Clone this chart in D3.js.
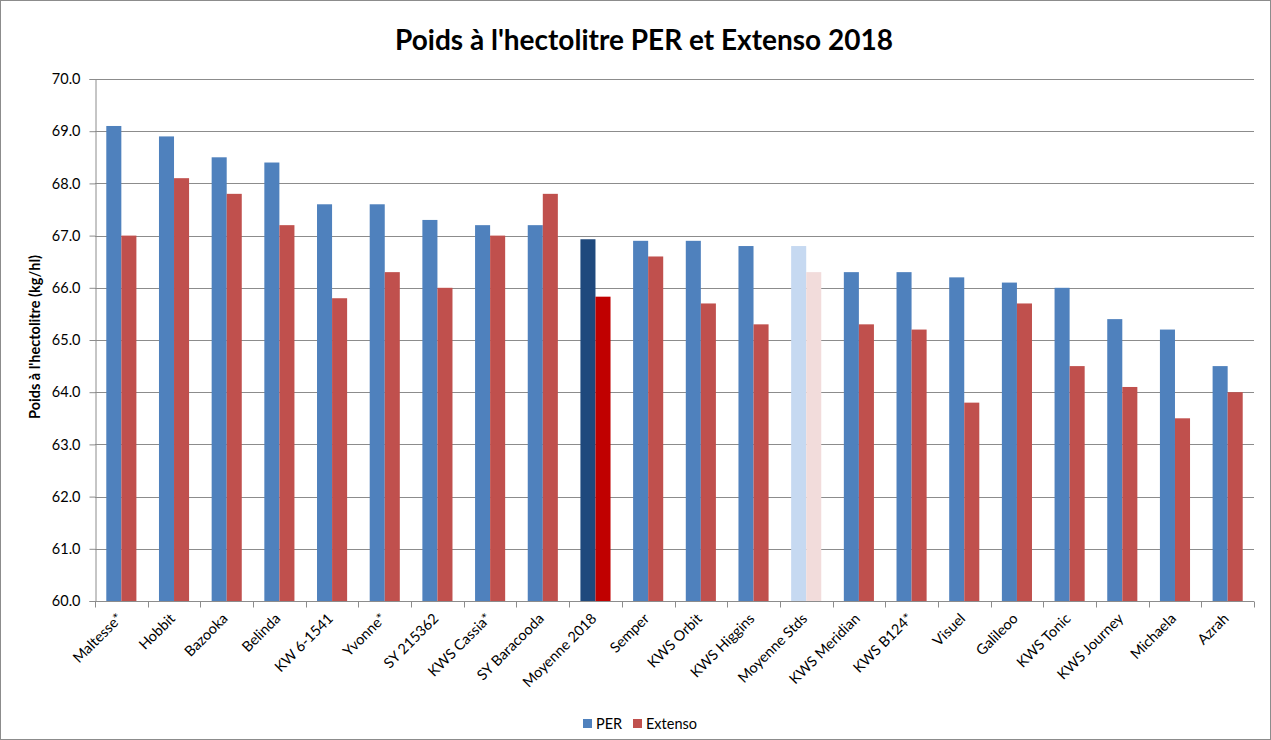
<!DOCTYPE html>
<html><head><meta charset="utf-8">
<script src="https://cdn.jsdelivr.net/npm/d3@7"></script>
<style>body{margin:0;background:#fff;} svg{display:block;font-family:Lato,"Open Sans",sans-serif;}</style>
</head><body>
<script>
const categories = ["Maltesse*","Hobbit","Bazooka","Belinda","KW 6-1541","Yvonne*","SY 215362","KWS Cassia*","SY Baracooda","Moyenne 2018","Semper","KWS Orbit","KWS Higgins","Moyenne Stds","KWS Meridian","KWS B124*","Visuel","Galileoo","KWS Tonic","KWS Journey","Michaela","Azrah"];
const perValues = [69.1,68.9,68.5,68.4,67.6,67.6,67.3,67.2,67.2,66.93,66.9,66.9,66.8,66.8,66.3,66.3,66.2,66.1,66.0,65.4,65.2,64.5];
const extensoValues = [67.0,68.1,67.8,67.2,65.8,66.3,66.0,67.0,67.8,65.83,66.6,65.7,65.3,66.3,65.3,65.2,63.8,65.7,64.5,64.1,63.5,64.0];
const yTicks = [60,61,62,63,64,65,66,67,68,69,70];
const seriesNames = ["PER","Extenso"];

const W = 1271, H = 740;
const m = {left:95, right:17, top:79, bottom:139};
const svg = d3.select("body").append("svg").attr("width",W).attr("height",H);
svg.append("rect").attr("x",0.5).attr("y",0.5).attr("width",W-1).attr("height",H-1).attr("fill","#fff").attr("stroke","#8c8c8c");

const x = d3.scaleBand().domain(categories).range([m.left, W-m.right]).paddingInner(0).paddingOuter(0);
const bw = x.bandwidth()/3.5;
const y = d3.scaleLinear().domain([60,70]).range([H-m.bottom, m.top]);

// gridlines
svg.append("g").selectAll("line").data(yTicks).join("line")
  .attr("x1",m.left).attr("x2",W-m.right)
  .attr("y1",d=>Math.round(y(d))+0.5).attr("y2",d=>Math.round(y(d))+0.5)
  .attr("stroke","#8c8c8c").attr("stroke-width",1.2);

const colorsPer = categories.map(c=> c==="Moyenne 2018" ? "#1F497D" : c==="Moyenne Stds" ? "#C6D9F1" : "#4F81BD");
const colorsExt = categories.map(c=> c==="Moyenne 2018" ? "#C00000" : c==="Moyenne Stds" ? "#F2DCDB" : "#C0504D");

const g = svg.append("g");
g.selectAll("rect.per").data(categories).join("rect").attr("class","per")
  .attr("x",d=>x(d)+bw*0.75).attr("width",bw)
  .attr("y",(d,i)=>y(perValues[i])).attr("height",(d,i)=>y(60)-y(perValues[i]))
  .attr("fill",(d,i)=>colorsPer[i]);
g.selectAll("rect.ext").data(categories).join("rect").attr("class","ext")
  .attr("x",d=>x(d)+bw*1.75).attr("width",bw)
  .attr("y",(d,i)=>y(extensoValues[i])).attr("height",(d,i)=>y(60)-y(extensoValues[i]))
  .attr("fill",(d,i)=>colorsExt[i]);

// y axis
const yAxis = d3.axisLeft(y).tickValues(yTicks).tickFormat(d3.format(".1f")).tickSize(6).tickPadding(9);
const ya = svg.append("g").attr("transform",`translate(${m.left+0.5},0)`).call(yAxis);
ya.select(".domain").attr("stroke","#8c8c8c");
ya.selectAll(".tick line").attr("stroke","#8c8c8c");
ya.selectAll("text").attr("font-size",14.5).attr("fill","#000").attr("font-family","Lato,sans-serif");

// x axis
const xa = svg.append("g").attr("transform",`translate(0,${y(60)+0.5})`);
xa.append("line").attr("x1",m.left).attr("x2",W-m.right).attr("stroke","#8c8c8c");
const bounds = categories.map(c=>x(c)).concat([x(categories[categories.length-1])+x.bandwidth()]);
xa.selectAll("line.t").data(bounds).join("line").attr("class","t")
  .attr("x1",d=>Math.round(d)+0.5).attr("x2",d=>Math.round(d)+0.5).attr("y1",0).attr("y2",6).attr("stroke","#8c8c8c");
xa.selectAll("text").data(categories).join("text")
  .attr("transform",d=>`translate(${x(d)+x.bandwidth()/2+2},18) rotate(-45)`)
  .attr("text-anchor","end").attr("font-size",14.5).attr("fill","#000").text(d=>d);

// titles
svg.append("text").attr("x",644).attr("y",50).attr("text-anchor","middle")
  .attr("font-size",28).attr("font-weight","bold").text("Poids à l'hectolitre PER et Extenso 2018");
svg.append("text").attr("transform",`translate(40,337) rotate(-90)`)
  .attr("text-anchor","middle").attr("font-size",14.5).attr("font-weight","bold").text("Poids à l'hectolitre (kg/hl)");

// legend
const leg = svg.append("g").attr("transform","translate(583,719)");
const legColors = ["#4F81BD","#C0504D"];
const legX = [0,50];
seriesNames.forEach((s,i)=>{
  leg.append("rect").attr("x",legX[i]).attr("y",0).attr("width",9).attr("height",9).attr("fill",legColors[i]);
  leg.append("text").attr("x",legX[i]+13).attr("y",10).attr("font-size",14.5).text(s);
});
</script>
</body></html>
